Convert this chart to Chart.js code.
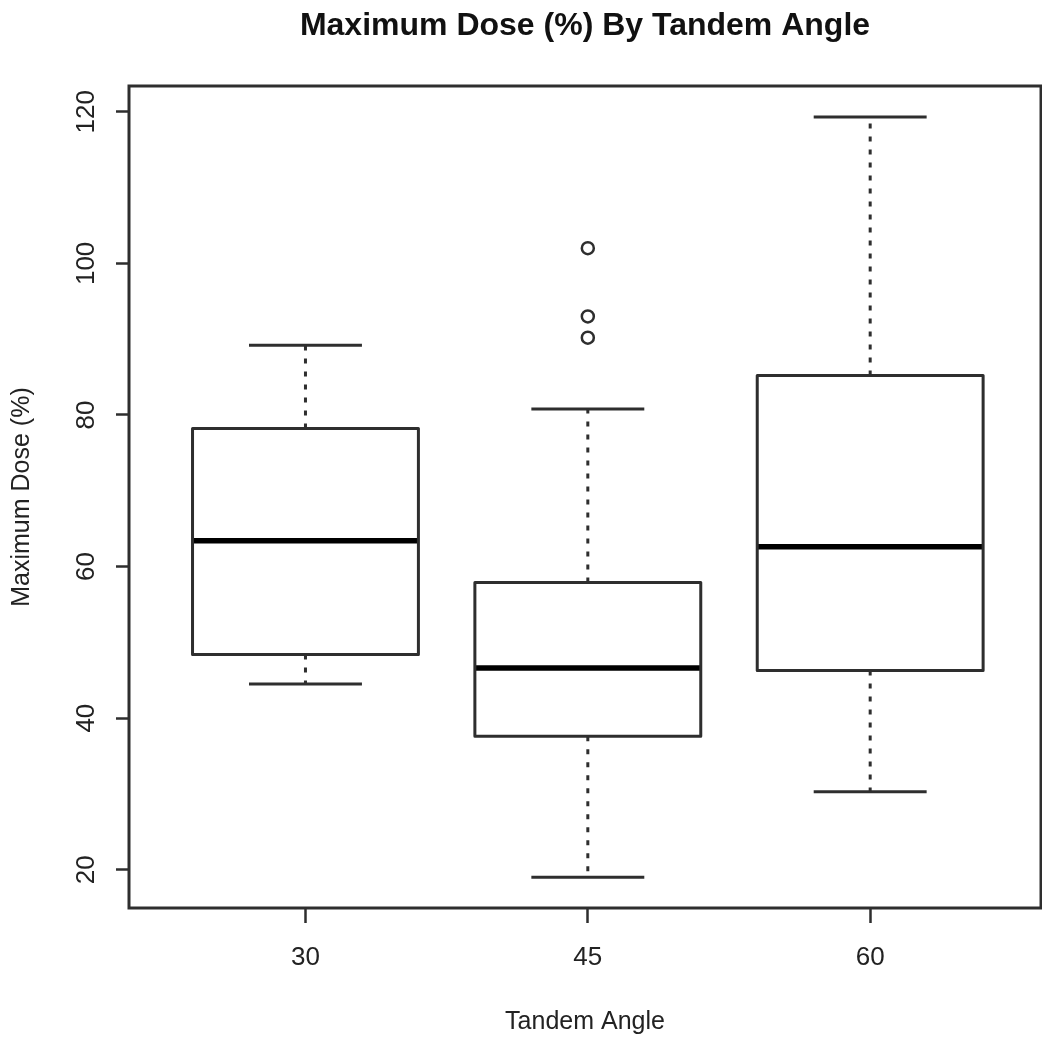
<!DOCTYPE html>
<html>
<head>
<meta charset="utf-8">
<script src="https://cdn.jsdelivr.net/npm/chart.js@4.4.1/dist/chart.umd.min.js"></script>
<style>
  html, body { margin: 0; padding: 0; background: #fff; overflow: hidden; }
  canvas { display: block; }
</style>
</head>
<body>
<canvas id="box" width="1042" height="1044"></canvas>
<script>
// boxplot summary
const groups = ['30', '45', '60'];
const lowerWhisker = [44.5, 19.0, 30.3];
const q1 = [48.4, 37.6, 46.3];
const median = [63.4, 46.6, 62.6];
const q3 = [78.2, 57.9, 85.2];
const upperWhisker = [89.2, 80.8, 119.3];
const outliers = [[], [90.2, 93.0, 102.0], []];
const yTicks = [20, 40, 60, 80, 100, 120];

const ink = '#2e2e2e';
const font = 'Liberation Sans, Arial, sans-serif';

function seg(points, width, dash) {
  return {
    data: points,
    showLine: true,
    borderColor: ink,
    borderWidth: width,
    borderDash: dash || [],
    borderJoinStyle: 'round',
    borderCapStyle: 'butt',
    pointRadius: 0,
    fill: false,
    tension: 0
  };
}

const datasets = [];
groups.forEach((g, i) => {
  const x = i + 1;
  const l = x - 0.4, r = x + 0.4;
  // box
  datasets.push(seg([
    {x: l, y: q1[i]}, {x: r, y: q1[i]}, {x: r, y: q3[i]},
    {x: l, y: q3[i]}, {x: l, y: q1[i]}
  ], 3));
  // median
  const m = seg([{x: l, y: median[i]}, {x: r, y: median[i]}], 5.5);
  m.borderColor = '#000';
  datasets.push(m);
  // whiskers
  datasets.push(seg([{x: x, y: q3[i]}, {x: x, y: upperWhisker[i]}], 3, [5, 8]));
  datasets.push(seg([{x: x, y: q1[i]}, {x: x, y: lowerWhisker[i]}], 3, [5, 8]));
  // caps
  datasets.push(seg([{x: x - 0.2, y: upperWhisker[i]}, {x: x + 0.2, y: upperWhisker[i]}], 3));
  datasets.push(seg([{x: x - 0.2, y: lowerWhisker[i]}, {x: x + 0.2, y: lowerWhisker[i]}], 3));
  // outliers
  if (outliers[i].length) {
    datasets.push({
      data: outliers[i].map(v => ({x: x, y: v})),
      showLine: false,
      pointStyle: 'circle',
      pointRadius: 6,
      pointBackgroundColor: 'rgba(0,0,0,0)',
      pointBorderColor: ink,
      pointBorderWidth: 2.5
    });
  }
});

const framePlugin = {
  id: 'frame',
  afterDraw(chart) {
    const {ctx, chartArea: a} = chart;
    ctx.save();
    ctx.strokeStyle = ink;
    ctx.lineWidth = 3;
    ctx.strokeRect(a.left, a.top, a.right - a.left, a.bottom - a.top);
    // main title, centred over the plot region like R does
    ctx.fillStyle = '#111';
    ctx.font = 'bold 32px ' + font;
    ctx.textAlign = 'center';
    ctx.textBaseline = 'alphabetic';
    ctx.fillText('Maximum Dose (%) By Tandem Angle', (a.left + a.right) / 2, 35);
    ctx.restore();
  }
};

new Chart(document.getElementById('box'), {
  type: 'scatter',
  data: { datasets: datasets },
  plugins: [framePlugin],
  options: {
    responsive: false,
    maintainAspectRatio: false,
    animation: false,
    layout: { autoPadding: false, padding: { top: 86, right: 1, left: 0, bottom: 0 } },
    plugins: { legend: { display: false }, tooltip: { enabled: false } },
    scales: {
      x: {
        type: 'linear',
        min: 0.375,
        max: 3.605,
        afterBuildTicks: s => { s.ticks = groups.map((g, i) => ({ value: i + 1 })); },
        afterFit: s => { s.height = 136; },
        ticks: {
          autoSkip: false,
          maxRotation: 0,
          padding: 19,
          color: '#222',
          font: { family: font, size: 26 },
          callback: (v, idx) => groups[idx]
        },
        grid: { drawOnChartArea: false, drawTicks: true, tickLength: 15, tickWidth: 2.5, tickColor: ink },
        border: { display: false },
        title: {
          display: true,
          text: 'Tandem Angle',
          color: '#222',
          font: { family: font, size: 25 },
          padding: { top: 0, bottom: 7 }
        }
      },
      y: {
        type: 'linear',
        min: 14.95,
        max: 123.4,
        afterBuildTicks: s => { s.ticks = yTicks.map(v => ({ value: v })); },
        afterFit: s => { s.width = 129; },
        ticks: {
          autoSkip: false,
          minRotation: 90,
          maxRotation: 90,
          crossAlign: 'center',
          padding: 7,
          color: '#222',
          font: { family: font, size: 26 }
        },
        grid: { drawOnChartArea: false, drawTicks: true, tickLength: 13, tickWidth: 2.5, tickColor: ink },
        border: { display: false },
        title: {
          display: true,
          text: 'Maximum Dose (%)',
          color: '#222',
          font: { family: font, size: 25 },
          padding: { top: 7, bottom: 0 }
        }
      }
    }
  }
});
</script>
</body>
</html>
